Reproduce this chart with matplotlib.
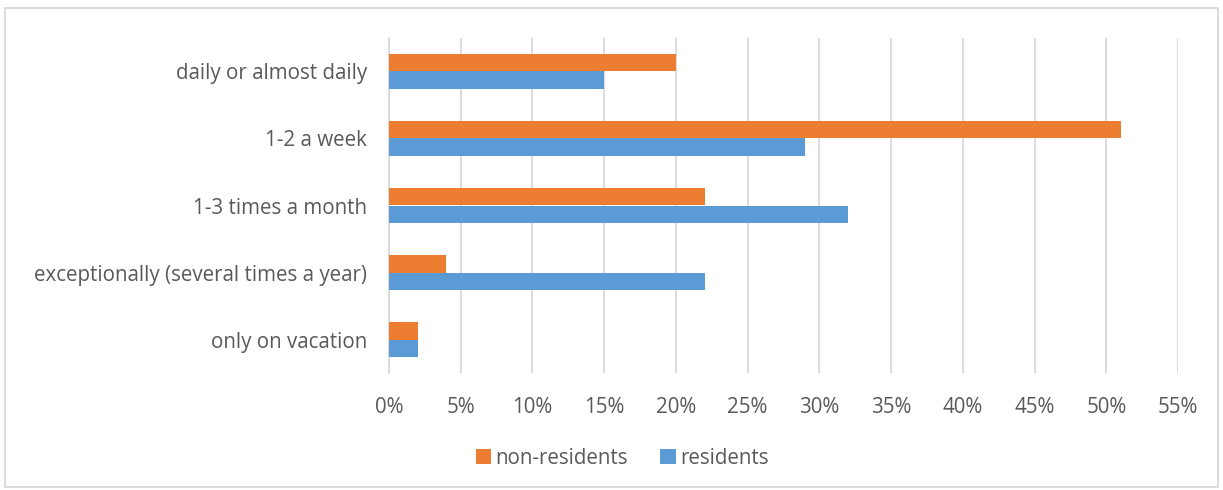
import matplotlib.pyplot as plt
import matplotlib.patches as patches
import numpy as np

# data
categories = ['daily or almost daily', '1-2 a week', '1-3 times a month',
              'exceptionally (several times a year)', 'only on vacation']
non_residents = [20, 51, 22, 4, 2]
residents = [15, 29, 32, 22, 2]
xticks = list(range(0, 60, 5))

orange = '#ED7D31'
blue = '#5B9BD5'
txt = '#595959'
fs = 14.8

plt.rcParams['font.family'] = ['Open Sans', 'DejaVu Sans']

fig = plt.figure(figsize=(12.23, 4.9), dpi=100)
ax = fig.add_axes([389 / 1223, 1 - 373 / 490, (1178 - 389) / 1223, (373 - 38) / 490])

y = np.arange(len(categories))
h = 0.26
ax.barh(y - h / 2, non_residents, height=h, color=orange, label='non-residents', zorder=3)
ax.barh(y + h / 2, residents, height=h, color=blue, label='residents', zorder=3)

ax.set_ylim(len(categories) - 0.5, -0.5)
ax.set_xlim(0, 55)
ax.set_yticks(y)
ax.set_yticklabels(categories, fontsize=fs, color=txt)
ax.set_xticks(xticks)
ax.set_xticklabels(['{}%'.format(t) for t in xticks], fontsize=fs, color=txt)
ax.tick_params(axis='both', length=0)
ax.tick_params(axis='y', pad=16)
ax.tick_params(axis='x', pad=17)
ax.grid(axis='x', color='#d9d9d9', linewidth=1.3, zorder=0)
for s in ['top', 'right', 'bottom']:
    ax.spines[s].set_visible(False)
ax.spines['left'].set_color('#d9d9d9')
ax.spines['left'].set_linewidth(1.3)

leg = fig.legend(loc='center', bbox_to_anchor=(622 / 1223, 1 - 458 / 490), ncol=2,
                 frameon=False, fontsize=fs, handlelength=0.75, handleheight=0.75,
                 handletextpad=0.2, columnspacing=1.6)
for t in leg.get_texts():
    t.set_color(txt)

# light frame around the whole chart
fig.patches.append(patches.Rectangle((5 / 1223, 3 / 490), 1213 / 1223, 479 / 490,
                                     transform=fig.transFigure, fill=False,
                                     edgecolor='#d9d9d9', linewidth=1.3))

fig.savefig('out.png', dpi=100)
